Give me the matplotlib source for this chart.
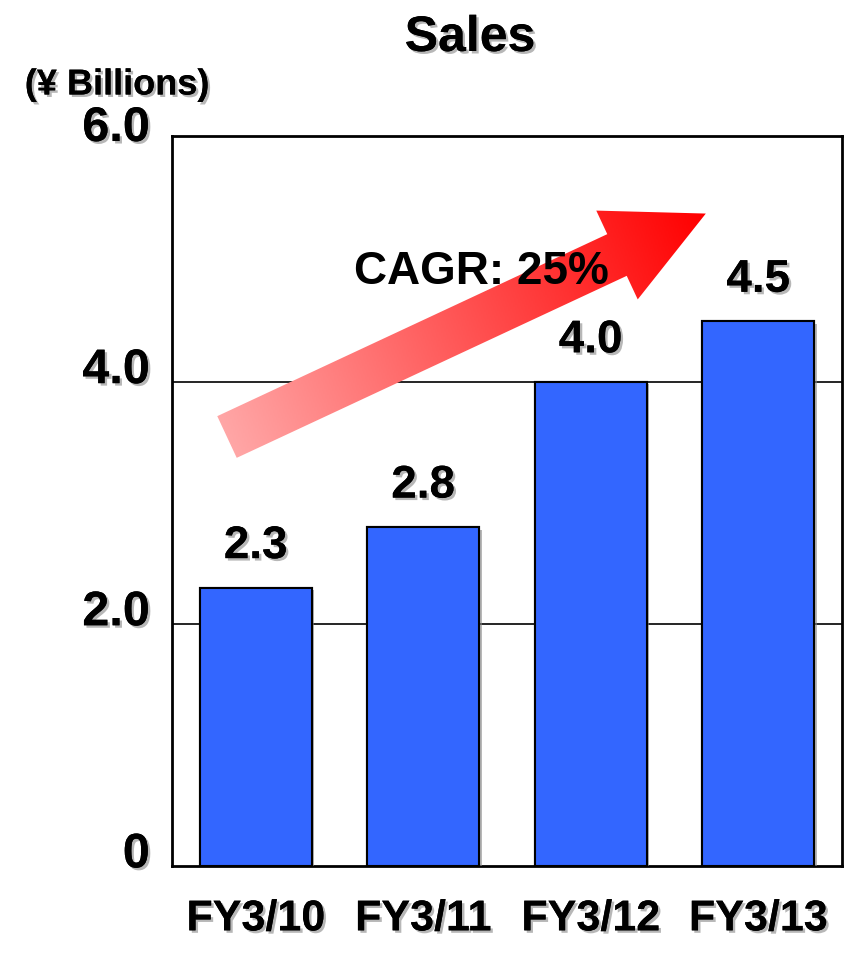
import numpy as np
import matplotlib
matplotlib.use('Agg')
import matplotlib.pyplot as plt
import matplotlib.patheffects as pe
from matplotlib.patches import Polygon
from matplotlib.colors import LinearSegmentedColormap

plt.rcParams['font.family'] = ['Liberation Sans', 'DejaVu Sans']
plt.rcParams['font.weight'] = 'bold'

# Datos
categories = ["FY3/10", "FY3/11", "FY3/12", "FY3/13"]
sales = [2.3, 2.8, 4.0, 4.5]
yticks = [0, 2.0, 4.0, 6.0]
ytick_labels = ["0", "2.0", "4.0", "6.0"]

BLUE = "#3366FF"
SHADOW = [pe.withSimplePatchShadow(offset=(1.8, -1.8), shadow_rgbFace="#888888", alpha=0.6), pe.Normal()]

fig = plt.figure(figsize=(8.54, 9.55), dpi=100)
ax = fig.add_axes([172 / 854, 89 / 955, 670 / 854, 730 / 955])

x = np.arange(len(categories))
bars = ax.bar(x, sales, width=0.67, color=BLUE, edgecolor="black", linewidth=1.5, zorder=3)
for b in bars:
    b.set_path_effects(SHADOW)

ax.set_xlim(-0.5, len(categories) - 0.5)
ax.set_ylim(0, 6.03)
ax.set_yticks(yticks)
ax.set_yticklabels([])
ax.set_xticks(x)
ax.set_xticklabels(categories)
ax.tick_params(axis='y', length=0)
ax.tick_params(axis='x', length=0, pad=24, labelsize=31)
for lbl in ax.get_xticklabels():
    lbl.set_fontweight('bold')
    lbl.set_path_effects(SHADOW)

# Etiquetas del eje Y, un poco por encima de cada linea
for yv, txt in zip(yticks, ytick_labels):
    ax.annotate(txt, xy=(0, yv), xycoords=ax.get_yaxis_transform(),
                xytext=(-16, 8), textcoords="offset points", ha="right", va="center",
                fontsize=35, fontweight="bold", path_effects=SHADOW, annotation_clip=False)

for yv in yticks[1:-1]:
    ax.axhline(yv, color="black", linewidth=1.2, zorder=1)
for s in ax.spines.values():
    s.set_linewidth(2)

# Etiquetas de valor
for xi, v in zip(x, sales):
    ax.annotate(f"{v:.1f}", (xi, v), xytext=(0, 14), textcoords="offset points",
                ha="center", va="bottom", fontsize=33, fontweight="bold",
                path_effects=SHADOW, zorder=5)

# Flecha con degradado (en pixeles de la figura)
fig.canvas.draw()
tail = np.array([227.0, 955 - 437.0])
head_base = np.array([617.0, 955 - 255.0])
d = head_base - tail
u = d / np.linalg.norm(d)
n = np.array([-u[1], u[0]])
shaft_w, head_w, head_len = 46, 98, 98
tip = head_base + u * head_len
pts = np.array([
    tail + n * shaft_w / 2,
    head_base + n * shaft_w / 2,
    head_base + n * head_w / 2,
    tip,
    head_base - n * head_w / 2,
    head_base - n * shaft_w / 2,
    tail - n * shaft_w / 2,
])
inv = ax.transData.inverted()
pts_data = inv.transform(pts)
arrow = Polygon(pts_data, closed=True, facecolor="none", edgecolor="none", zorder=4)
ax.add_patch(arrow)

gx = np.linspace(pts[:, 0].min(), pts[:, 0].max(), 300)
gy = np.linspace(pts[:, 1].min(), pts[:, 1].max(), 300)
GX, GY = np.meshgrid(gx, gy)
total = np.dot(tip - tail, u)
frac = np.clip(((GX - tail[0]) * u[0] + (GY - tail[1]) * u[1]) / total, 0, 1)
cmap = LinearSegmentedColormap.from_list("rojo", ["#FFA6A6", "#FF0000"])
lo = inv.transform([pts[:, 0].min(), pts[:, 1].min()])
hi = inv.transform([pts[:, 0].max(), pts[:, 1].max()])
img = ax.imshow(frac, cmap=cmap, origin="lower", extent=[lo[0], hi[0], lo[1], hi[1]],
                aspect="auto", zorder=4, interpolation="bilinear")
img.set_clip_path(arrow)
ax.set_xlim(-0.5, len(categories) - 0.5)
ax.set_ylim(0, 6.03)

ax.text(1.35, 4.91, "CAGR: 25%", ha="center", va="center", fontsize=33,
        fontweight="bold", zorder=6)

fig.text(470 / 854, 1 - 38 / 955, "Sales", ha="center", va="center",
         fontsize=36, fontweight="bold", path_effects=SHADOW)
fig.text(117 / 854, 1 - 85 / 955, "(¥ Billions)", ha="center", va="center",
         fontsize=26, fontweight="bold", path_effects=SHADOW)

fig.savefig("out.png", dpi=100)
